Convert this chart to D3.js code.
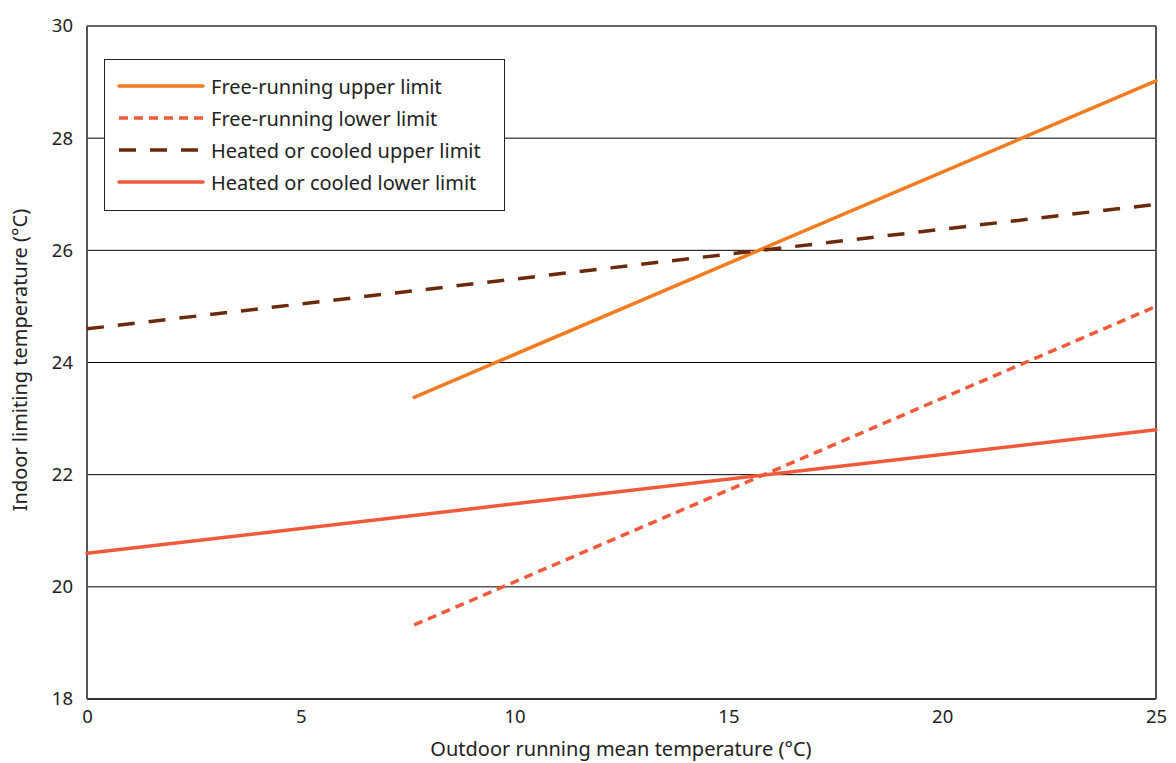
<!DOCTYPE html>
<html><head><meta charset="utf-8">
<script src="https://d3js.org/d3.v7.min.js"></script>
<style>body{margin:0;background:#fff;} text{font-family:"Noto Sans",sans-serif;fill:#222;}</style>
</head><body><svg id="c" width="1176" height="763"></svg>
<script>
const xTicks = [0,5,10,15,20,25];
const yTicks = [18,20,22,24,26,28,30];
const seriesNames = ["Free-running upper limit","Free-running lower limit","Heated or cooled upper limit","Heated or cooled lower limit"];
const frUpper = [[7.65,23.38],[25,29.02]];
const frLower = [[7.65,19.32],[25,25.0]];
const hcUpper = [[0,24.6],[25,26.82]];
const hcLower = [[0,20.6],[25,22.8]];
const colors = ["#f47b20","#f05a3a","#6b2a0a","#f05a3a"];
const dashes = [null,"9,6","17,14",null];

const FONT = "'Noto Sans',sans-serif";
const svg = d3.select("#c");
const m = {l:87,r:1156,t:26,b:699};
const x = d3.scaleLinear().domain([0,25]).range([m.l,m.r]);
const y = d3.scaleLinear().domain([18,30]).range([m.b,m.t]);

// gridlines
svg.append("g").selectAll("line").data(yTicks.filter(d=>d>18&&d<30)).join("line")
  .attr("x1",m.l).attr("x2",m.r).attr("y1",d=>y(d)).attr("y2",d=>y(d))
  .attr("stroke","#000").attr("stroke-width",1);
// frame
svg.append("line").attr("x1",m.l).attr("x2",m.r).attr("y1",m.t).attr("y2",m.t).attr("stroke","#333").attr("stroke-width",1.5);
svg.append("line").attr("x1",m.l).attr("x2",m.r).attr("y1",m.b).attr("y2",m.b).attr("stroke","#333").attr("stroke-width",2);
svg.append("line").attr("x1",m.l).attr("x2",m.l).attr("y1",m.t).attr("y2",m.b).attr("stroke","#555").attr("stroke-width",2);
svg.append("line").attr("x1",m.r).attr("x2",m.r).attr("y1",m.t).attr("y2",m.b).attr("stroke","#555").attr("stroke-width",2);

// axes
const xa = svg.append("g").attr("transform",`translate(0,${m.b})`).call(d3.axisBottom(x).tickValues(xTicks).tickSize(0).tickPadding(11));
xa.select(".domain").remove();
xa.selectAll("text").attr("font-size",18.5).style("font-family",FONT).attr("fill","#222");
const ya = svg.append("g").attr("transform",`translate(${m.l},0)`).call(d3.axisLeft(y).tickValues(yTicks).tickSize(0).tickPadding(14));
ya.select(".domain").remove();
ya.selectAll("text").attr("font-size",18.5).style("font-family",FONT).attr("fill","#222");

// lines
const data = [frUpper,frLower,hcUpper,hcLower];
const line = d3.line().x(d=>x(d[0])).y(d=>y(d[1]));
data.forEach((d,i)=>{
  const p = svg.append("path").attr("d",line(d)).attr("fill","none")
    .attr("stroke",colors[i]).attr("stroke-width",3.5).attr("stroke-linecap","round");
  if(dashes[i]) p.attr("stroke-dasharray",dashes[i]).attr("stroke-linecap","butt");
});

// legend
const lg = svg.append("g");
lg.append("rect").attr("x",104.5).attr("y",59.5).attr("width",400).attr("height",151)
  .attr("fill","#fff").attr("stroke","#222").attr("stroke-width",1);
seriesNames.forEach((n,i)=>{
  const yy = 87+i*32;
  const l = lg.append("line").attr("x1",119).attr("x2",203).attr("y1",yy-1).attr("y2",yy-1)
    .attr("stroke",colors[i]).attr("stroke-width",3.5).attr("stroke-linecap","round");
  if(dashes[i]) l.attr("stroke-dasharray",dashes[i]).attr("stroke-linecap","butt");
  lg.append("text").attr("x",211).attr("y",yy+7).attr("font-size",20).text(n);
});

// axis titles
svg.append("text").attr("x",621).attr("y",756).attr("text-anchor","middle").attr("font-size",20).text("Outdoor running mean temperature (°C)");
svg.append("text").attr("transform","translate(27,360) rotate(-90)").attr("text-anchor","middle").attr("font-size",20).text("Indoor limiting temperature (°C)");
</script></body></html>
